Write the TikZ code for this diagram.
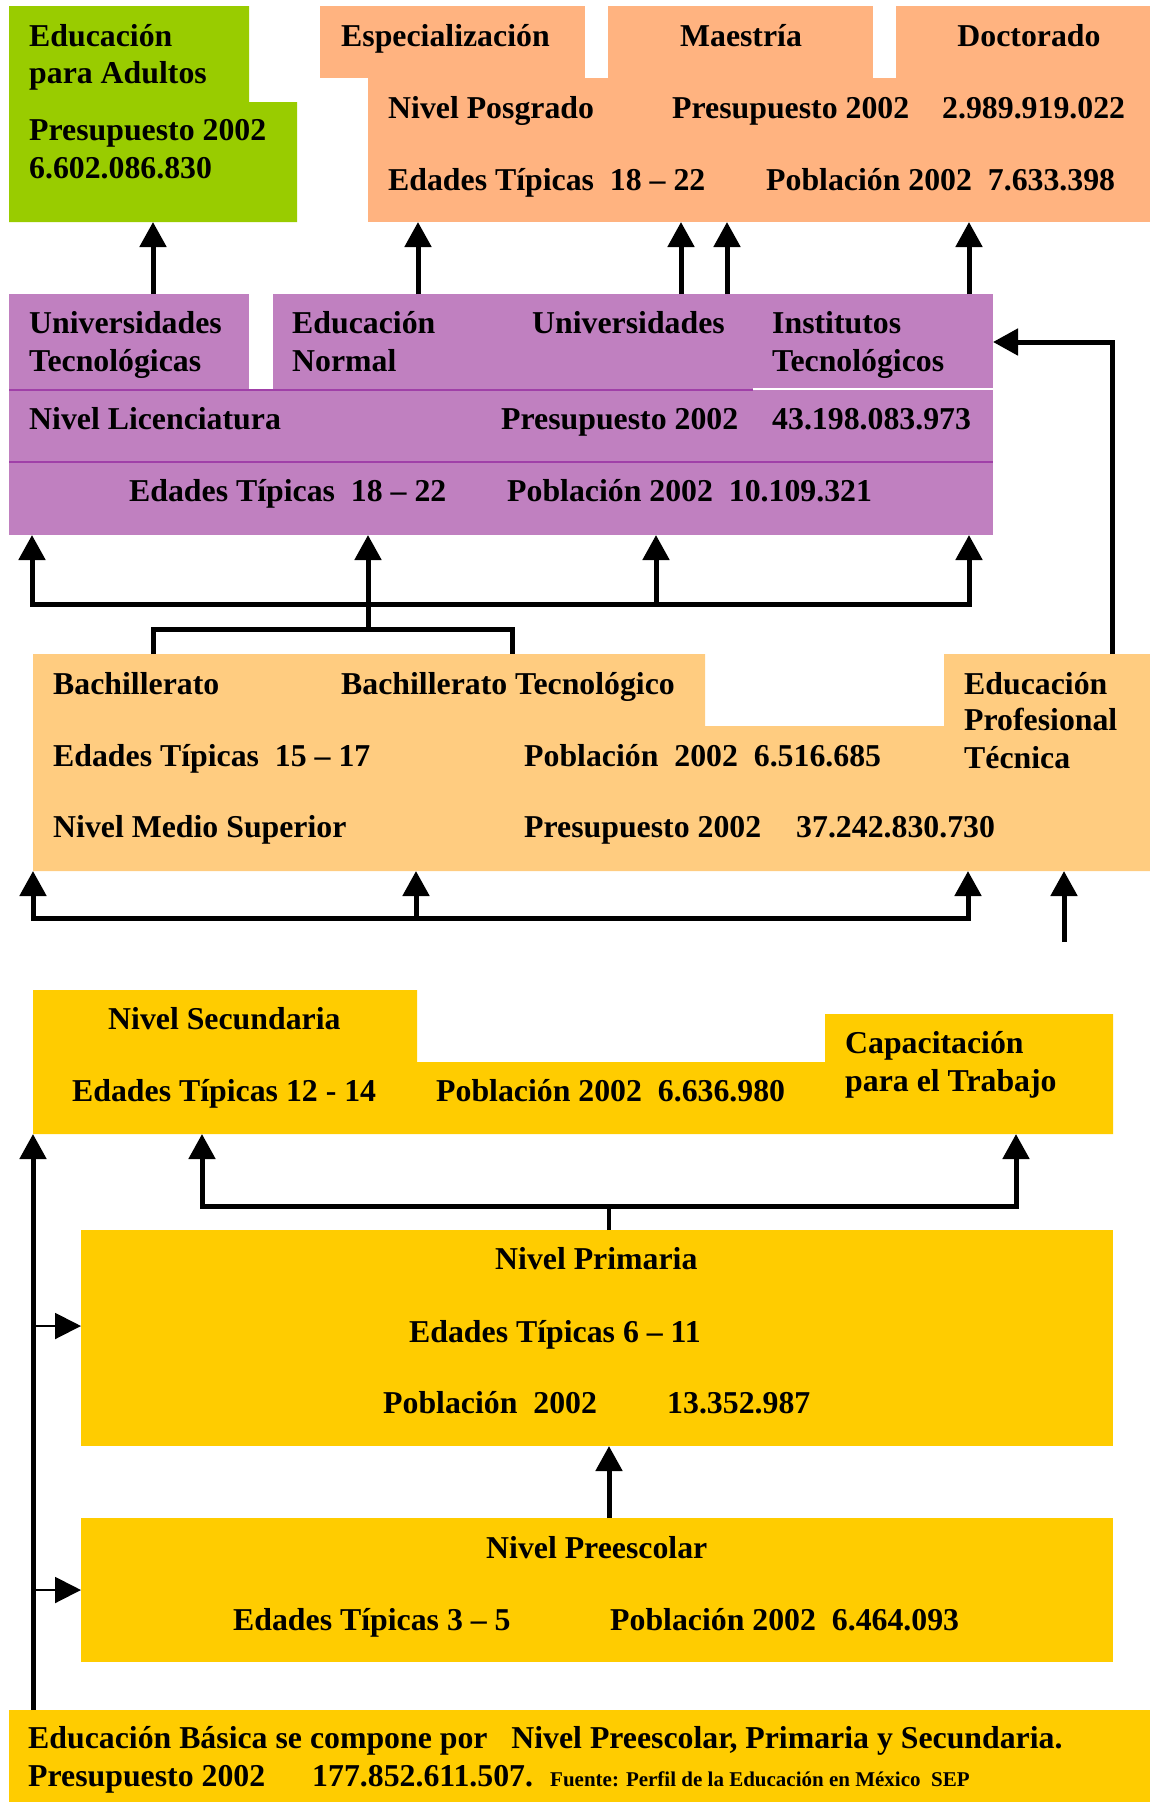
\documentclass[tikz,border=0pt]{standalone}
\usepackage{fontspec}
\setmainfont{Liberation Serif}
\usetikzlibrary{arrows.meta}
\definecolor{cgreen}{HTML}{99CC00}
\definecolor{cpeach}{HTML}{FFB380}
\definecolor{cpurple}{HTML}{C080C0}
\definecolor{cpurpleline}{HTML}{A040A8}
\definecolor{clight}{HTML}{FFCC80}
\definecolor{cyellow}{HTML}{FFCC00}
\newcommand\bigfnt{\fontsize{31.8}{38}\selectfont\bfseries}
\newcommand\smallfnt{\fontsize{21}{25}\selectfont\bfseries}
\begin{document}
\begin{tikzpicture}[x=1pt,y=-1pt,
  txt/.style={anchor=base west, inner sep=0pt, font=\bigfnt},
  ctxt/.style={anchor=base, inner sep=0pt, font=\bigfnt},
  stxt/.style={anchor=base west, inner sep=0pt, font=\smallfnt},
  ln/.style={line width=5pt},
  arr/.style={line width=5pt, -{Triangle[length=25pt,width=26pt]}},
  tipsboth/.style={line width=5pt, {Triangle[length=25pt,width=26pt]}-{Triangle[length=25pt,width=26pt]}},
  thinarr/.style={line width=2pt, -{Triangle[length=26pt,width=26pt]}}]
\useasboundingbox (0,0) rectangle (1150,1802);

% ---------- shapes ----------
% Educacion para adultos
\fill[cgreen] (9,6) -- (249,6) -- (249,102) -- (297,102) -- (297,222) -- (9,222) -- cycle;
% Posgrado
\fill[cpeach] (320,6) rectangle (585,78);
\fill[cpeach] (608,6) rectangle (873,78);
\fill[cpeach] (896,6) rectangle (1150,78);
\fill[cpeach] (368,78) rectangle (1150,222);
% Licenciatura
\fill[cpurple] (9,294) rectangle (249,390);
\fill[cpurple] (273,294) rectangle (993,390);
\fill[cpurple] (9,390) rectangle (993,535);
\draw[cpurpleline, line width=1.5pt] (9,390) -- (753,390);
\draw[white, line width=1.5pt] (753,389) -- (993,389);
\draw[cpurpleline, line width=1.5pt] (9,462) -- (993,462);
% Medio superior
\fill[clight] (33,654) -- (705,654) -- (705,726) -- (944,726) -- (944,654) -- (1150,654) -- (1150,871) -- (33,871) -- cycle;
% Secundaria
\fill[cyellow] (33,990) -- (417,990) -- (417,1062) -- (825,1062) -- (825,1014) -- (1113,1014) -- (1113,1134) -- (33,1134) -- cycle;
% Primaria
\fill[cyellow] (81,1230) rectangle (1113,1446);
% Preescolar
\fill[cyellow] (81,1518) rectangle (1113,1662);
% Basica
\fill[cyellow] (9,1710) rectangle (1150,1802);

% ---------- texts ----------
\node[txt] (g1) at (29,46) {Educación};
\node[txt] (g2) at (29,83) {para Adultos};
\node[txt] (g3) at (29,140) {Presupuesto 2002};
\node[txt] (g4) at (29,178) {6.602.086.830};

\node[txt] (p1) at (341,46) {Especialización};
\node[ctxt] (p2) at (741,46) {Maestría};
\node[ctxt] (p3) at (1029,46) {Doctorado};
\node[txt] (p4) at (388,118) {Nivel Posgrado};
\node[txt] (p5) at (672,118) {Presupuesto 2002};
\node[txt] (p6) at (942,118) {2.989.919.022};
\node[txt] (p7) at (388,190) {Edades Típicas\ \ 18 – 22};
\node[txt] (p8) at (766,190) {Población 2002\ \ 7.633.398};

\node[txt] (l1) at (29,333) {Universidades};
\node[txt] (l2) at (29,371) {Tecnológicas};
\node[txt] (l3) at (292,333) {Educación};
\node[txt] (l4) at (292,371) {Normal};
\node[txt] (l5) at (532,333) {Universidades};
\node[txt] (l6) at (772,333) {Institutos};
\node[txt] (l7) at (772,371) {Tecnológicos};
\node[txt] (l8) at (29,429) {Nivel Licenciatura};
\node[txt] (l9) at (501,429) {Presupuesto 2002};
\node[txt] (l10) at (772,429) {43.198.083.973};
\node[txt] (l11) at (129,501) {Edades Típicas\ \ 18 – 22};
\node[txt] (l12) at (507,501) {Población 2002\ \ 10.109.321};

\node[txt] (b1) at (53,694) {Bachillerato};
\node[txt] (b2) at (341,694) {Bachillerato Tecnológico};
\node[txt] (b3) at (964,694) {Educación};
\node[txt] (b4) at (964,730) {Profesional};
\node[txt] (b5) at (964,768) {Técnica};
\node[txt] (b6) at (53,766) {Edades Típicas\ \ 15 – 17};
\node[txt] (b7) at (524,766) {Población\ \ 2002\ \ 6.516.685};
\node[txt] (b8) at (53,837) {Nivel Medio Superior};
\node[txt] (b9) at (524,837) {Presupuesto 2002};
\node[txt] (b10) at (796,837) {37.242.830.730};

\node[txt] (s1) at (108,1029) {Nivel Secundaria};
\node[txt] (s2) at (72,1101) {Edades Típicas 12 - 14};
\node[txt] (s3) at (436,1101) {Población 2002\ \ 6.636.980};
\node[txt] (s4) at (845,1053) {Capacitación};
\node[txt] (s5) at (845,1091) {para el Trabajo};

\node[txt] (r1) at (495,1269) {Nivel Primaria};
\node[txt] (r2) at (409,1342) {Edades Típicas 6 – 11};
\node[txt] (r3) at (383,1413) {Población\ \ 2002};
\node[txt] (r4) at (667,1413) {13.352.987};

\node[txt] (e1) at (486,1558) {Nivel Preescolar};
\node[txt] (e2) at (233,1630) {Edades Típicas 3 – 5};
\node[txt] (e3) at (610,1630) {Población 2002\ \ 6.464.093};

\node[txt] (f1) at (28,1748) {Educación Básica se compone por\ \ \ Nivel Preescolar, Primaria y Secundaria.};
\node[txt] (f2) at (28,1786) {Presupuesto 2002};
\node[txt] (f3) at (312,1786) {177.852.611.507.};
\node[stxt] (f4) at (550,1786) {Fuente: Perfil de la Educación en México\ \ SEP};

% ---------- connector points ----------
\coordinate (lg) at (153,294);   \coordinate (ag) at (153,222);
\coordinate (le) at (418,294);   \coordinate (ae) at (418,222);
\coordinate (lm1) at (681,294);  \coordinate (am1) at (681,222);
\coordinate (lm2) at (727,294);  \coordinate (am2) at (727,222);
\coordinate (ld) at (969,294);   \coordinate (ad) at (969,222);

\coordinate (u1) at (32,535);  \coordinate (u1b) at (32,604);
\coordinate (u2) at (368,535); \coordinate (u2b) at (368,629);
\coordinate (u3) at (656,535); \coordinate (u3b) at (656,604);
\coordinate (u4) at (969,535); \coordinate (u4b) at (969,604);
\coordinate (bh1) at (153,654); \coordinate (bh1b) at (153,629);
\coordinate (bh2) at (512,654); \coordinate (bh2b) at (512,629);

\coordinate (m1) at (33,871);   \coordinate (m1b) at (33,918);
\coordinate (m2) at (416,871);  \coordinate (m2b) at (416,918);
\coordinate (m3) at (968,871);  \coordinate (m3b) at (968,918);
\coordinate (m4) at (1064,871); \coordinate (m4b) at (1064,942);

\coordinate (ept) at (1112,654); \coordinate (eptc) at (1112,342); \coordinate (lic) at (993,342);

\coordinate (s1a) at (202,1134);  \coordinate (s1b) at (202,1206);
\coordinate (s2a) at (1016,1134); \coordinate (s2b) at (1016,1206);
\coordinate (prt) at (609,1230);  \coordinate (prtb) at (609,1206);

\coordinate (bas) at (33,1710);  \coordinate (sec) at (33,1134);
\coordinate (lp1) at (33,1326);  \coordinate (pr1) at (81,1326);
\coordinate (lp2) at (33,1590);  \coordinate (pe1) at (81,1590);
\coordinate (pet) at (609,1518); \coordinate (prb) at (609,1446);

% ---------- connectors ----------
\draw[arr] (lg) -- (ag);
\draw[arr] (le) -- (ae);
\draw[arr] (lm1) -- (am1);
\draw[arr] (lm2) -- (am2);
\draw[arr] (ld) -- (ad);

\draw[tipsboth] (u1) -- (u1b) -- (u4b) -- (u4);
\draw[arr] (u2b) -- (u2);
\draw[arr] (u3b) -- (u3);
\draw[ln] (bh1) -- (bh1b) -- (bh2b) -- (bh2);

\draw[tipsboth] (m1) -- (m1b) -- (m3b) -- (m3);
\draw[arr] (m2b) -- (m2);
\draw[arr] (m4b) -- (m4);

\draw[arr] (ept) -- (eptc) -- (lic);

\draw[tipsboth] (s1a) -- (s1b) -- (s2b) -- (s2a);
\draw[line width=3.5pt] (prt) -- (prtb);

\draw[arr] (bas) -- (sec);
\draw[thinarr] (lp1) -- (pr1);
\draw[thinarr] (lp2) -- (pe1);
\draw[arr] (pet) -- (prb);
\end{tikzpicture}
\end{document}
